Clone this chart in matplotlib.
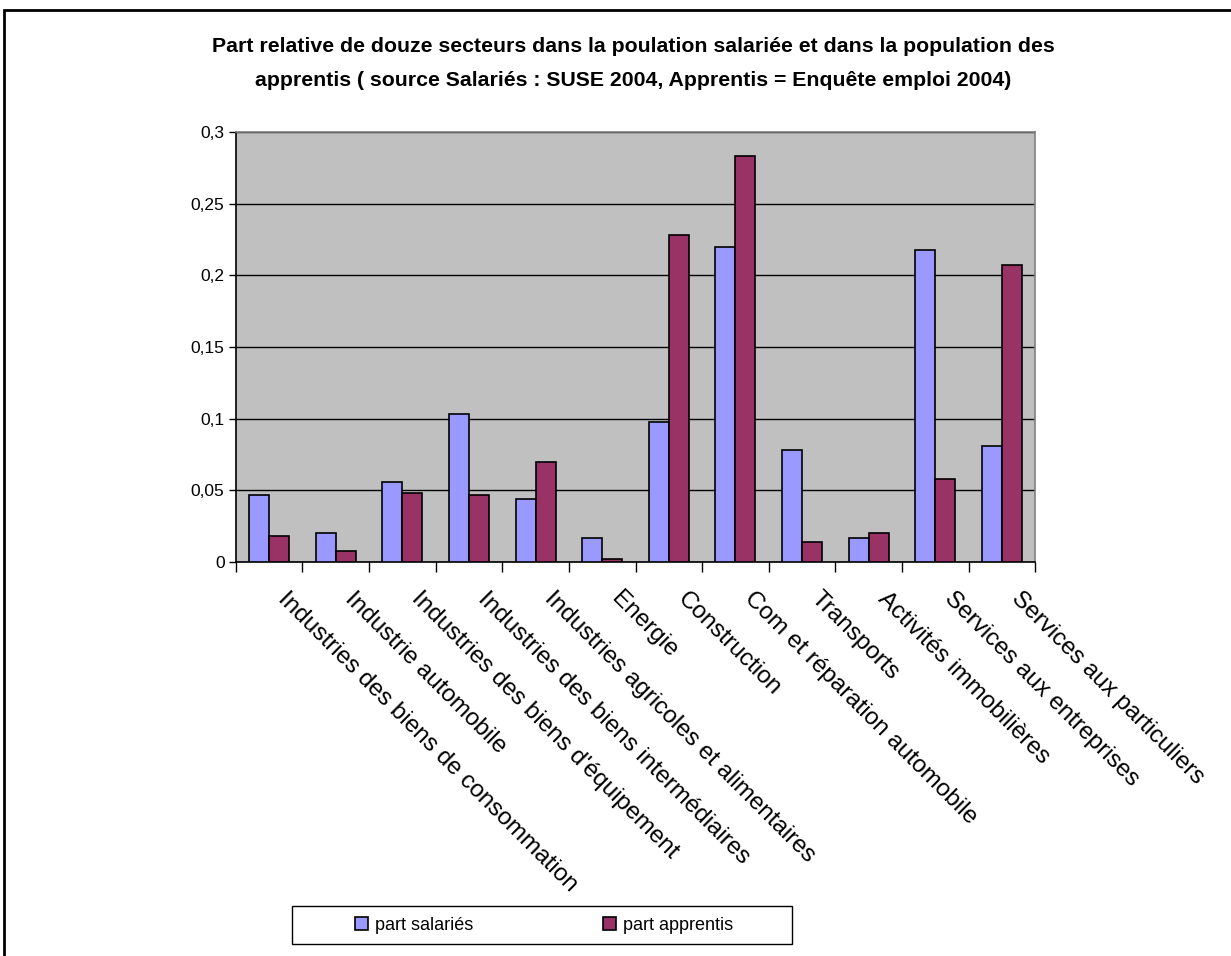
import numpy as np
import matplotlib.pyplot as plt
from matplotlib.patches import Rectangle

plt.rcParams['font.family'] = ['Liberation Sans', 'DejaVu Sans']

secteurs = [
    "Industries des biens de consommation",
    "Industrie automobile",
    "Industries des biens d'équipement",
    "Industries des biens intermédiaires",
    "Industries agricoles et alimentaires",
    "Energie",
    "Construction",
    "Com et réparation automobile",
    "Transports",
    "Activités immobilières",
    "Services aux entreprises",
    "Services aux particuliers",
]
part_salaries = [0.047, 0.020, 0.056, 0.103, 0.044, 0.017,
                 0.098, 0.220, 0.078, 0.017, 0.218, 0.081]
part_apprentis = [0.018, 0.008, 0.048, 0.047, 0.070, 0.002,
                  0.228, 0.283, 0.014, 0.020, 0.058, 0.207]
yticks = [0, 0.05, 0.1, 0.15, 0.2, 0.25, 0.3]
ytick_labels = ["0", "0,05", "0,1", "0,15", "0,2", "0,25", "0,3"]

W, H = 1231, 956
fig = plt.figure(figsize=(W / 100, H / 100), dpi=100)
ax = fig.add_axes([235.7 / W, 1 - 562 / H, (1035.3 - 235.7) / W, (562 - 132) / H])

x = np.arange(len(secteurs))
bw = 0.3
ax.set_axisbelow(True)
ax.bar(x - bw / 2, part_salaries, bw, color="#9999FF", edgecolor="black",
       linewidth=1.2, label="part salariés", zorder=3)
ax.bar(x + bw / 2, part_apprentis, bw, color="#993366", edgecolor="black",
       linewidth=1.2, label="part apprentis", zorder=3)

ax.set_facecolor("#C0C0C0")
ax.set_xlim(-0.5, len(secteurs) - 0.5)
ax.set_ylim(0, 0.3)
ax.set_yticks(yticks)
ax.set_yticklabels(ytick_labels, fontsize=12.5)
ax.yaxis.grid(True, color="black", linewidth=1)
for s in ["top", "right"]:
    ax.spines[s].set_color("#808080")
    ax.spines[s].set_linewidth(1.2)
for s in ["left", "bottom"]:
    ax.spines[s].set_color("black")
    ax.spines[s].set_linewidth(1.2)
ax.tick_params(axis="y", length=5, width=1, pad=3)

# category ticks sit between groups; labels are placed separately
ax.set_xticks(np.arange(len(secteurs) + 1) - 0.5)
ax.set_xticklabels([])
ax.tick_params(axis="x", length=7, width=1)
for i, name in enumerate(secteurs):
    ax.annotate(name, xy=(i, 0), xycoords=("data", "axes fraction"),
                xytext=(9, -24), textcoords="offset points",
                rotation=-45, rotation_mode="anchor", ha="left", va="center",
                fontsize=17.5)

fig.text(633 / W, 1 - 47 / H,
         "Part relative de douze secteurs dans la poulation salariée et dans la population des",
         ha="center", va="center", fontsize=15.3, fontweight="bold")
fig.text(633 / W, 1 - 80 / H,
         "apprentis ( source Salariés : SUSE 2004, Apprentis = Enquête emploi 2004)",
         ha="center", va="center", fontsize=15.3, fontweight="bold")

# legend with its own frame
fig.patches.append(Rectangle((292 / W, 1 - 944 / H), 500 / W, 38 / H,
                             transform=fig.transFigure, facecolor="white",
                             edgecolor="black", linewidth=1))
fig.legend(loc="center", bbox_to_anchor=(544 / W, 1 - 925 / H), ncol=2,
           frameon=False, fontsize=13, handlelength=0.7, handleheight=0.7,
           handletextpad=0.4, columnspacing=7.2)

# outer chart border
fig.patches.append(Rectangle((4 / W, -0.1), 1.1, 1 - 10 / H + 0.1,
                             transform=fig.transFigure, facecolor="none",
                             edgecolor="black", linewidth=2, clip_on=False))

fig.savefig("out.png", dpi=100, facecolor="white")
